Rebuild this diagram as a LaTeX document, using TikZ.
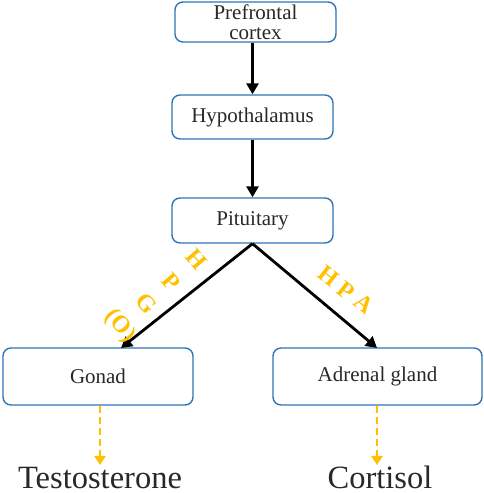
\documentclass[tikz,border=0pt]{standalone}
\usepackage{fontspec}
\setmainfont{Liberation Serif}
\usetikzlibrary{arrows.meta}
\definecolor{boxblue}{RGB}{46,117,182}
\definecolor{axisyellow}{RGB}{255,192,0}
\definecolor{txtgray}{RGB}{40,40,40}
\begin{document}
\begin{tikzpicture}[x=1pt, y=1pt,
		organ/.style={draw=boxblue, line width=1.4pt, rounded corners=8pt, fill=white, text=txtgray, align=center, font=\fontsize{21}{20}\selectfont},
		hormone/.style={text=txtgray, font=\fontsize{32.5}{34}\selectfont, inner sep=0pt, anchor=base},
		axis/.style={text=axisyellow, font=\bfseries\fontsize{24}{33}\selectfont, inner sep=0pt},
		link/.style={line width=2.8pt, -{Triangle[length=11pt, width=12pt]}},
		release/.style={axisyellow, line width=2.6pt, dash pattern=on 7pt off 4pt, -{Triangle[length=9pt, width=11pt]}}]
		\useasboundingbox (0,0) rectangle (484,493);
		\node [organ, minimum width=161, minimum height=40, inner sep=0pt] (pfc) at (255.5,471) {Prefrontal\\cortex};
		\node [organ, minimum width=161, minimum height=44] (hyp) at (252.5,376) {Hypothalamus};
		\node [organ, minimum width=161, minimum height=45] (pit) at (252.5,272.5) {Pituitary};
		\node [organ, minimum width=190, minimum height=57] (gon) at (98,116.5) {Gonad};
		\node [organ, minimum width=209, minimum height=57] (adr) at (377.5,116.5) {Adrenal gland};
		\node [hormone] (testo) at (100,4.5) {Testosterone};
		\node [hormone] (cort) at (380,4.5) {Cortisol};
		\coordinate (gtop) at (121,145);
		\coordinate (atop) at (377,145);
		\coordinate (tend) at (100,28);
		\coordinate (cend) at (377,28);
		
		\draw [link] (pfc.south -| hyp.north) -- (hyp.north);
		\draw [link] (hyp) -- (pit);
		\draw [link] (pit.south) -- (gtop);
		\draw [link] (pit.south) -- (atop);
		\draw [release] (gon.south -| tend) -- (tend);
		\draw [release] (adr.south -| cend) -- (cend);
		\node [axis, rotate=-49, align=center] (hpg) at (157,199) {H\\P\\G\\(O)};
		\node [axis, rotate=-38] (hpa) at (346,203) {H P A};
\end{tikzpicture}
\end{document}
